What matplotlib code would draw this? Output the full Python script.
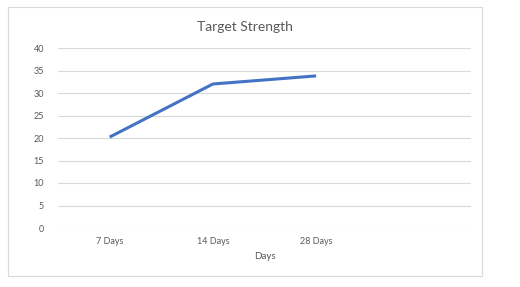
import matplotlib
matplotlib.use("Agg")
import matplotlib.pyplot as plt
from matplotlib.patches import Rectangle

categories = ["7 Days", "14 Days", "28 Days", ""]
values = [20.2, 32.0, 33.8]
yticks = [0, 5, 10, 15, 20, 25, 30, 35, 40]

plt.rcParams['font.family'] = ['Lato', 'DejaVu Sans']

fig = plt.figure(figsize=(5.2, 2.87), dpi=100)
fig.patch.set_facecolor('white')
fig.patches.append(Rectangle((8/520, 1-276/287), 474/520, 269/287,
                             transform=fig.transFigure, fill=False,
                             edgecolor='#d9d9d9', linewidth=0.8))

ax = fig.add_axes([58/520, 1-228/287, 413/520, 180/287])
x = list(range(len(values)))
ax.plot(x, values, color='#4472C4', linewidth=2.2, solid_capstyle='butt')
ax.set_xlim(-0.5, len(categories) - 0.5)
ax.set_ylim(0, 40)
ax.set_yticks(yticks)
ax.set_xticks(range(len(categories)))
ax.set_xticklabels(categories)
ax.grid(axis='y', color='#d9d9d9', linewidth=0.8)
ax.set_axisbelow(True)
for s in ax.spines.values():
    s.set_visible(False)
ax.tick_params(axis='both', length=0, labelsize=6.5, colors='#595959')
ax.tick_params(axis='y', pad=10)
ax.tick_params(axis='x', pad=6.5)
ax.set_xlabel("Days", fontsize=7, color='#595959', labelpad=4)
fig.text(245/520, 1-27/287, "Target Strength", ha='center', va='center',
         fontsize=10, color='#595959')

fig.savefig("out.png", dpi=100, facecolor='white')
